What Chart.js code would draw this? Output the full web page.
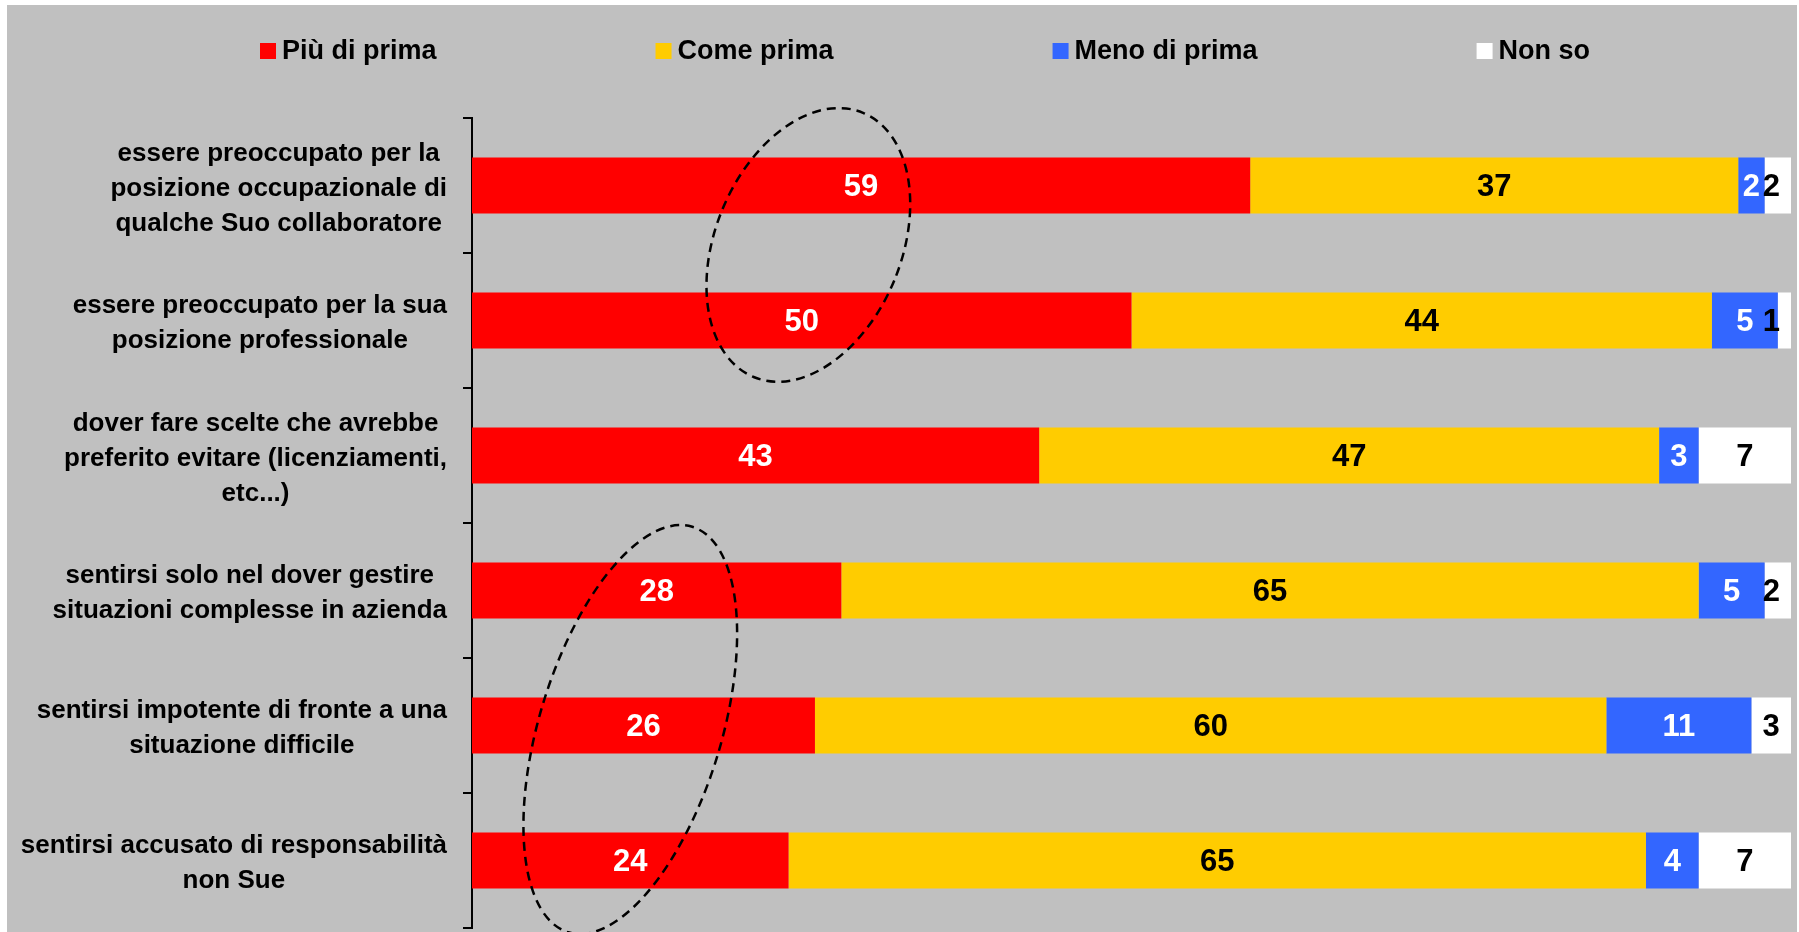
<!DOCTYPE html>
<html>
<head>
<meta charset="utf-8">
<script src="https://cdn.jsdelivr.net/npm/chart.js@4.4.1/dist/chart.umd.min.js"></script>
<style>
  html, body { margin: 0; padding: 0; background: #ffffff; }
  canvas { display: block; }
</style>
</head>
<body>
<canvas id="chart" width="1799" height="932"></canvas>
<script>
// Survey items (one multi-line label per bar)
const categories = [
  ['essere preoccupato per la', 'posizione occupazionale di', 'qualche Suo collaboratore'],
  ['essere preoccupato per la sua', 'posizione professionale'],
  ['dover fare scelte che avrebbe', 'preferito evitare (licenziamenti,', 'etc...)'],
  ['sentirsi solo nel dover gestire', 'situazioni complesse in azienda'],
  ['sentirsi impotente di fronte a una', 'situazione difficile'],
  ['sentirsi accusato di responsabilità', 'non Sue']
];

const seriesNames = ['Più di prima', 'Come prima', 'Meno di prima', 'Non so'];

// Percentages per answer
const piuDiPrima  = [59, 50, 43, 28, 26, 24];
const comePrima   = [37, 44, 47, 65, 60, 65];
const menoDiPrima = [2, 5, 3, 5, 11, 4];
const nonSo       = [2, 1, 7, 2, 3, 7];

const FONT = '"Liberation Sans", Arial, Helvetica, sans-serif';
const fillColors  = ['#FF0000', '#FFCC00', '#3366FF', '#FFFFFF'];
const valueColors = ['#FFFFFF', '#000000', '#FFFFFF', '#000000'];

const datasets = [piuDiPrima, comePrima, menoDiPrima, nonSo].map((values, i) => ({
  label: seriesNames[i],
  data: values,
  backgroundColor: fillColors[i],
  borderWidth: 0,
  barPercentage: 0.415,
  categoryPercentage: 1
}));

// Grey panel behind everything
const panelBackground = {
  id: 'panelBackground',
  beforeDraw(chart) {
    const ctx = chart.ctx;
    ctx.save();
    ctx.fillStyle = '#FFFFFF';
    ctx.fillRect(0, 0, chart.width, chart.height);
    ctx.fillStyle = '#C0C0C0';
    ctx.fillRect(7, 5, chart.width - 9, chart.height - 5);
    ctx.restore();
  }
};

// Legend row across the top
const topLegend = {
  id: 'topLegend',
  afterDraw(chart) {
    const ctx = chart.ctx;
    ctx.save();
    ctx.font = 'bold 27px ' + FONT;
    ctx.textAlign = 'left';
    ctx.textBaseline = 'middle';
    let x = 260;
    const y = 51;
    chart.data.datasets.forEach(ds => {
      ctx.fillStyle = ds.backgroundColor;
      ctx.fillRect(x, y - 8, 16, 16);
      ctx.fillStyle = '#000000';
      ctx.fillText(ds.label, x + 22, y + 1);
      x += 22 + ctx.measureText(ds.label).width + 219;
    });
    ctx.restore();
  }
};

// Category labels: lines centred on each other, block set against the axis
const categoryLabels = {
  id: 'categoryLabels',
  afterDraw(chart) {
    const ctx = chart.ctx;
    const yScale = chart.scales.y;
    const rightEdge = chart.chartArea.left - 25;
    const lineH = 35;
    ctx.save();
    ctx.font = 'bold 26px ' + FONT;
    ctx.fillStyle = '#000000';
    ctx.textAlign = 'center';
    ctx.textBaseline = 'middle';
    chart.data.labels.forEach((lines, i) => {
      const w = Math.max(...lines.map(l => ctx.measureText(l).width));
      const cx = rightEdge - w / 2;
      const cy = yScale.getPixelForValue(i);
      lines.forEach((line, k) => {
        ctx.fillText(line, cx, cy + (k - (lines.length - 1) / 2) * lineH + 3);
      });
    });
    ctx.restore();
  }
};

// Value labels inside each segment
const segmentValues = {
  id: 'segmentValues',
  afterDatasetsDraw(chart) {
    const ctx = chart.ctx;
    const limit = chart.chartArea.right - 11;
    ctx.save();
    ctx.font = 'bold 31px ' + FONT;
    ctx.textAlign = 'center';
    ctx.textBaseline = 'middle';
    chart.data.datasets.forEach((ds, di) => {
      const meta = chart.getDatasetMeta(di);
      meta.data.forEach((bar, i) => {
        const text = String(ds.data[i]);
        const w = ctx.measureText(text).width;
        let cx = (bar.base + bar.x) / 2;
        if (cx + w / 2 > limit) cx = limit - w / 2;
        ctx.fillStyle = valueColors[di];
        ctx.fillText(text, cx, bar.y + 2);
      });
    });
    ctx.restore();
  }
};

// Dashed ellipses grouping rows, placed in scale units
const highlightRings = {
  id: 'highlightRings',
  afterDraw(chart, args, opts) {
    const ctx = chart.ctx;
    const xs = chart.scales.x, ys = chart.scales.y;
    ctx.save();
    ctx.strokeStyle = '#000000';
    ctx.lineWidth = 2.5;
    ctx.setLineDash([9, 6]);
    opts.rings.forEach(r => {
      const cx = xs.getPixelForValue(r.x);
      const cy = ys.getPixelForValue(r.y);
      ctx.beginPath();
      ctx.ellipse(cx, cy, r.rx, r.ry, r.tilt * Math.PI / 180, 0, Math.PI * 2);
      ctx.stroke();
    });
    ctx.restore();
  }
};

new Chart(document.getElementById('chart'), {
  type: 'bar',
  data: { labels: categories, datasets },
  options: {
    indexAxis: 'y',
    responsive: false,
    animation: false,
    devicePixelRatio: 1,
    layout: { padding: { left: 0, top: 118, right: 8, bottom: 4 } },
    plugins: {
      legend: { display: false },
      tooltip: { enabled: false },
      highlightRings: {
        rings: [
          { x: 25.5, y: 0.44, rx: 93, ry: 143, tilt: 22.5 },
          { x: 12.0, y: 4.03, rx: 91, ry: 212, tilt: 17 }
        ]
      }
    },
    scales: {
      x: { stacked: true, min: 0, max: 100, display: false },
      y: {
        stacked: true,
        offset: true,
        grid: {
          display: true,
          offset: true,
          drawOnChartArea: false,
          drawTicks: true,
          tickLength: 9,
          color: '#000000',
          lineWidth: 2
        },
        border: { display: true, color: '#000000', width: 2 },
        ticks: { display: false },
        afterFit(scale) { scale.width = 472; }
      }
    }
  },
  plugins: [panelBackground, categoryLabels, segmentValues, highlightRings, topLegend]
});
</script>
</body>
</html>
